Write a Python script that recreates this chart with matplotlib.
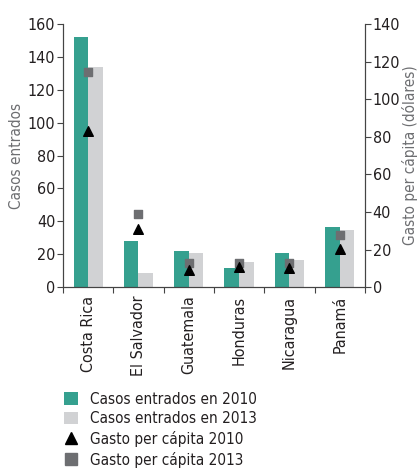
import numpy as np
import matplotlib
matplotlib.use('Agg')
import matplotlib.pyplot as plt
from matplotlib.lines import Line2D
from matplotlib.patches import Patch

plt.rcParams['font.family'] = ['DejaVu Sans']
plt.rcParams['font.stretch'] = 'condensed'

paises = ['Costa Rica', 'El Salvador', 'Guatemala', 'Honduras', 'Nicaragua', 'Panamá']
casos_2010 = [152, 28, 22, 11.5, 20.5, 36.5]
casos_2013 = [134, 8.5, 20.5, 15, 16.5, 34.5]
gasto_2010 = [83, 31, 9, 10.5, 10, 20.5]
gasto_2013 = [114.5, 39, 12.8, 12.7, 12.7, 27.7]

teal = '#35a08f'
gris_claro = '#d1d2d4'
gris_osc = '#6d6e71'
texto = '#231f20'

fig = plt.figure(figsize=(4.17, 4.70), dpi=100)
ax = fig.add_axes([0.151, 0.389, 0.724, 0.56])
x = np.arange(len(paises))
w = 0.29

ax.bar(x - w / 2, casos_2010, width=w, color=teal)
ax.bar(x + w / 2, casos_2013, width=w, color=gris_claro)
ax.set_xlim(-0.5, len(paises) - 0.5)
ax.set_ylim(0, 160)
ax.set_yticks(range(0, 161, 20))
ax.set_ylabel('Casos entrados', color=gris_osc, fontsize=11, labelpad=3)

ax2 = ax.twinx()
ax2.scatter(x, gasto_2013, marker='s', s=40, color=gris_osc, zorder=3)
ax2.scatter(x, gasto_2010, marker='^', s=48, color='black', zorder=4)
ax2.set_ylim(0, 140)
ax2.set_yticks(range(0, 141, 20))
ax2.set_ylabel('Gasto per cápita (dólares)', color=gris_osc, fontsize=11, labelpad=1)

# ticks del eje x en los limites entre paises
ax.set_xticks(np.arange(-0.5, len(paises), 1.0))
ax.set_xticklabels([])
ax.set_xticks(x, minor=True)
ax.set_xticklabels(paises, minor=True, rotation=90, fontsize=11.5, color=texto)
ax.tick_params(axis='x', which='minor', length=0, pad=6)
ax.tick_params(axis='x', which='major', length=4, color='#444444')

for a in (ax, ax2):
    a.spines['top'].set_visible(False)
    for s in a.spines.values():
        s.set_color('#444444')
    a.tick_params(axis='y', labelsize=11.5, labelcolor=texto, length=4, color='#444444', pad=1.5)

handles = [
    Patch(facecolor=teal, label='Casos entrados en 2010'),
    Patch(facecolor=gris_claro, label='Casos entrados en 2013'),
    Line2D([], [], marker='^', color='black', linestyle='none', markersize=9, label='Gasto per cápita 2010'),
    Line2D([], [], marker='s', color=gris_osc, linestyle='none', markersize=9, label='Gasto per cápita 2013'),
]
fig.legend(handles=handles, loc='upper left', bbox_to_anchor=(0.14, 0.18), frameon=False,
           fontsize=11, handlelength=0.9, handleheight=0.9, handletextpad=0.8,
           labelspacing=0.32, borderaxespad=0, labelcolor=texto)

fig.savefig('out.png', dpi=100)
